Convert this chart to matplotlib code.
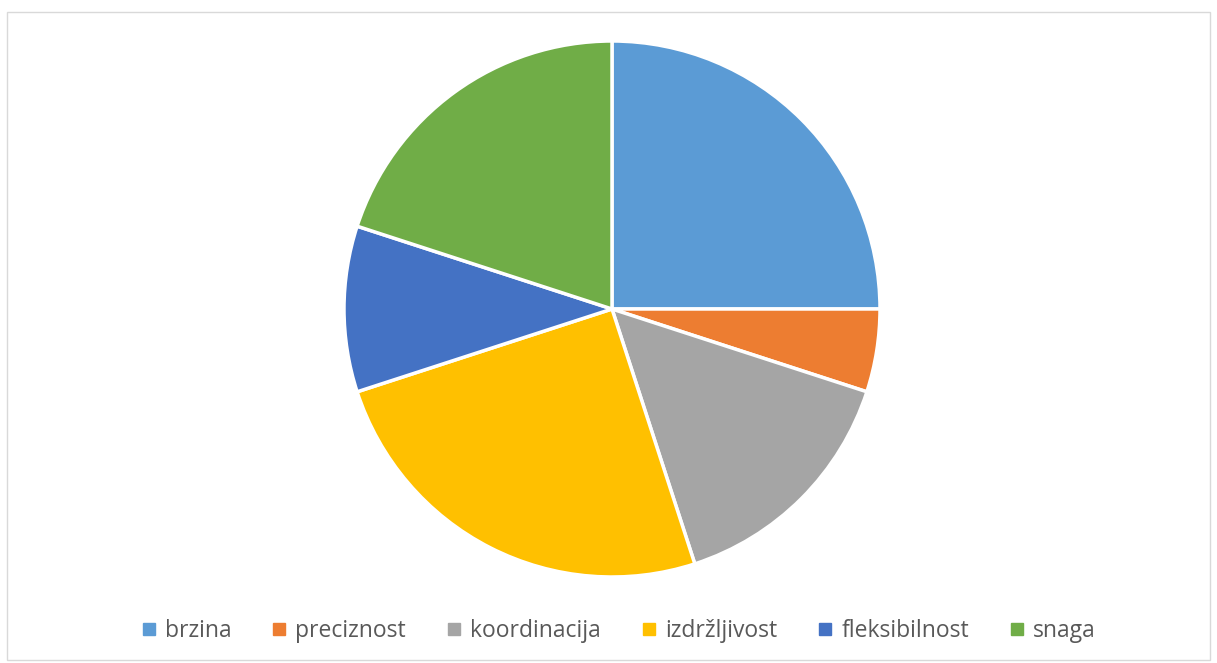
import matplotlib.pyplot as plt
from matplotlib.patches import Rectangle
from matplotlib.lines import Line2D

labels = ["brzina", "preciznost", "koordinacija", "izdržljivost", "fleksibilnost", "snaga"]
values = [25, 5, 15, 25, 10, 20]
colors = ["#5B9BD5", "#ED7D31", "#A5A5A5", "#FFC000", "#4472C4", "#70AD47"]

W, H = 1217, 663
fig = plt.figure(figsize=(W / 100, H / 100), dpi=100)
fig.patch.set_facecolor("white")

# chart area border
fig.add_artist(Rectangle((7 / W, 3 / H), 1203 / W, 648 / H, transform=fig.transFigure,
                         fill=False, edgecolor="#D9D9D9", lw=1))

cx, cy, r = 612, 309, 268
ax = fig.add_axes([(cx - r) / W, (H - cy - r) / H, 2 * r / W, 2 * r / H])
ax.pie(values, colors=colors, startangle=90, counterclock=False,
       wedgeprops=dict(edgecolor="white", linewidth=2.5))
ax.set_xlim(-1, 1)
ax.set_ylim(-1, 1)
ax.set_aspect("equal")

handles = [Line2D([], [], marker="s", ls="", color=c, ms=8, label=l)
           for c, l in zip(colors, labels)]
fig.legend(handles=handles, loc="center", bbox_to_anchor=(0.508, 1 - 631 / H), ncol=6,
           frameon=False, labelcolor="#595959", handlelength=0.7, handletextpad=0.35,
           columnspacing=1.75, prop={"family": "Open Sans", "size": 16.5})

fig.savefig("out.png", dpi=100, facecolor="white")
